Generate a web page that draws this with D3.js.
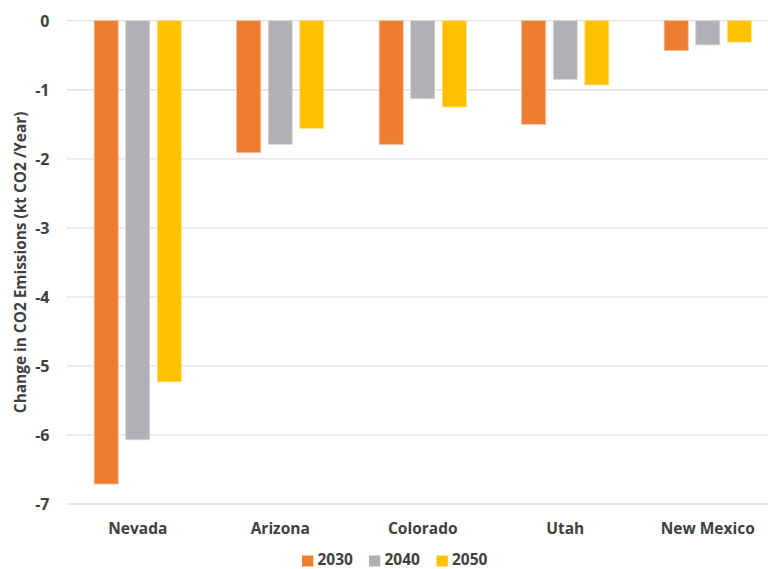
<!DOCTYPE html>
<html>
<head>
<meta charset="utf-8">
<script src="https://cdn.jsdelivr.net/npm/d3@7"></script>
<style>
  html, body { margin: 0; padding: 0; background: #fff; }
  svg { display: block; }
  text { font-family: "Open Sans", "Liberation Sans", sans-serif; font-weight: 700; fill: #404040; }
</style>
</head>
<body>
<svg id="chart" width="768" height="569"></svg>
<script>
// Change in CO2 emissions by state (kt CO2 / year)
const states = ["Nevada", "Arizona", "Colorado", "Utah", "New Mexico"];
const years = ["2030", "2040", "2050"];
const values2030 = [-6.71, -1.91, -1.79, -1.50, -0.43];
const values2040 = [-6.07, -1.79, -1.13, -0.85, -0.35];
const values2050 = [-5.23, -1.56, -1.25, -0.93, -0.31];
const yTicks = [0, -1, -2, -3, -4, -5, -6, -7];
const yTickLabels = ["0", "-1", "-2", "-3", "-4", "-5", "-6", "-7"];
const colors = ["#ED7D31", "#B0B1B5", "#FFC000"];
const borders = ["#f6b48a", "#d3d4d6", "#ffdf80"];

const seriesValues = [values2030, values2040, values2050];
const rows = states.map((s, i) => ({
  state: s,
  vals: years.map((y, j) => ({ year: y, idx: j, v: seriesValues[j][i] }))
}));

const svg = d3.select("#chart");
const plotLeft = 66.5, plotRight = 779, plotTop = 20.7, plotBottom = 504;

const x = d3.scaleBand().domain(states).range([plotLeft, plotRight])
  .paddingInner(0.383).paddingOuter(0.1915);
const xs = d3.scaleBand().domain(years).range([0, x.bandwidth()])
  .paddingInner(0.215).paddingOuter(0);
const y = d3.scaleLinear().domain([-7, 0]).range([plotBottom, plotTop]);

// gridlines
svg.append("g").selectAll("line").data(yTicks).join("line")
  .attr("x1", plotLeft).attr("x2", plotRight)
  .attr("y1", d => y(d)).attr("y2", d => y(d))
  .attr("stroke", "#e2e2e2").attr("stroke-width", 1.3);

// y tick labels (plain hyphen minus)
const yAxis = d3.axisLeft(y).tickValues(yTicks)
  .tickFormat((d, i) => yTickLabels[i]).tickSize(0).tickPadding(17);
const ga = svg.append("g").attr("transform", `translate(${plotLeft},0)`).call(yAxis);
ga.select(".domain").remove();
ga.selectAll("text").attr("font-size", 16).attr("dy", "0.35em")
  .style("font-family", '"Open Sans", sans-serif').style("font-weight", 700).attr("fill", "#404040");

// bars
const groups = svg.append("g").selectAll("g").data(rows).join("g")
  .attr("transform", d => `translate(${x(d.state)},0)`);
groups.selectAll("rect").data(d => d.vals).join("rect")
  .attr("x", d => xs(d.year) + 0.4)
  .attr("width", xs.bandwidth() - 0.8)
  .attr("y", d => y(0))
  .attr("height", d => y(d.v) - y(0))
  .attr("fill", d => colors[d.idx])
  .attr("stroke", d => borders[d.idx])
  .attr("stroke-width", 0.8);

// category labels
svg.append("g").selectAll("text").data(states).join("text")
  .attr("x", d => x(d) + x.bandwidth() / 2)
  .attr("y", 534.3)
  .attr("text-anchor", "middle")
  .attr("font-size", 15.5)
  .text(d => d);

// y axis title, sized to span the plot height used by the original layout
const title = svg.append("text")
  .attr("transform", `translate(25.5,${(plotTop + plotBottom) / 2}) rotate(-90)`)
  .attr("text-anchor", "middle")
  .attr("font-size", 13.5)
  .text("Change in CO2 Emissions (kt CO2 /Year)");
const tl = title.node().getComputedTextLength();
title.attr("font-size", 13.5 * 302 / tl);

// legend
const legendX = [302, 369, 436.5];
const lg = svg.append("g").selectAll("g").data(years).join("g")
  .attr("transform", (d, i) => `translate(${legendX[i]},555.5)`);
lg.append("rect").attr("width", 11.3).attr("height", 11)
  .attr("fill", (d, i) => colors[i]);
lg.append("text").attr("x", 15.5).attr("y", 9.8)
  .attr("font-size", 15.5).text(d => d);
</script>
</body>
</html>
